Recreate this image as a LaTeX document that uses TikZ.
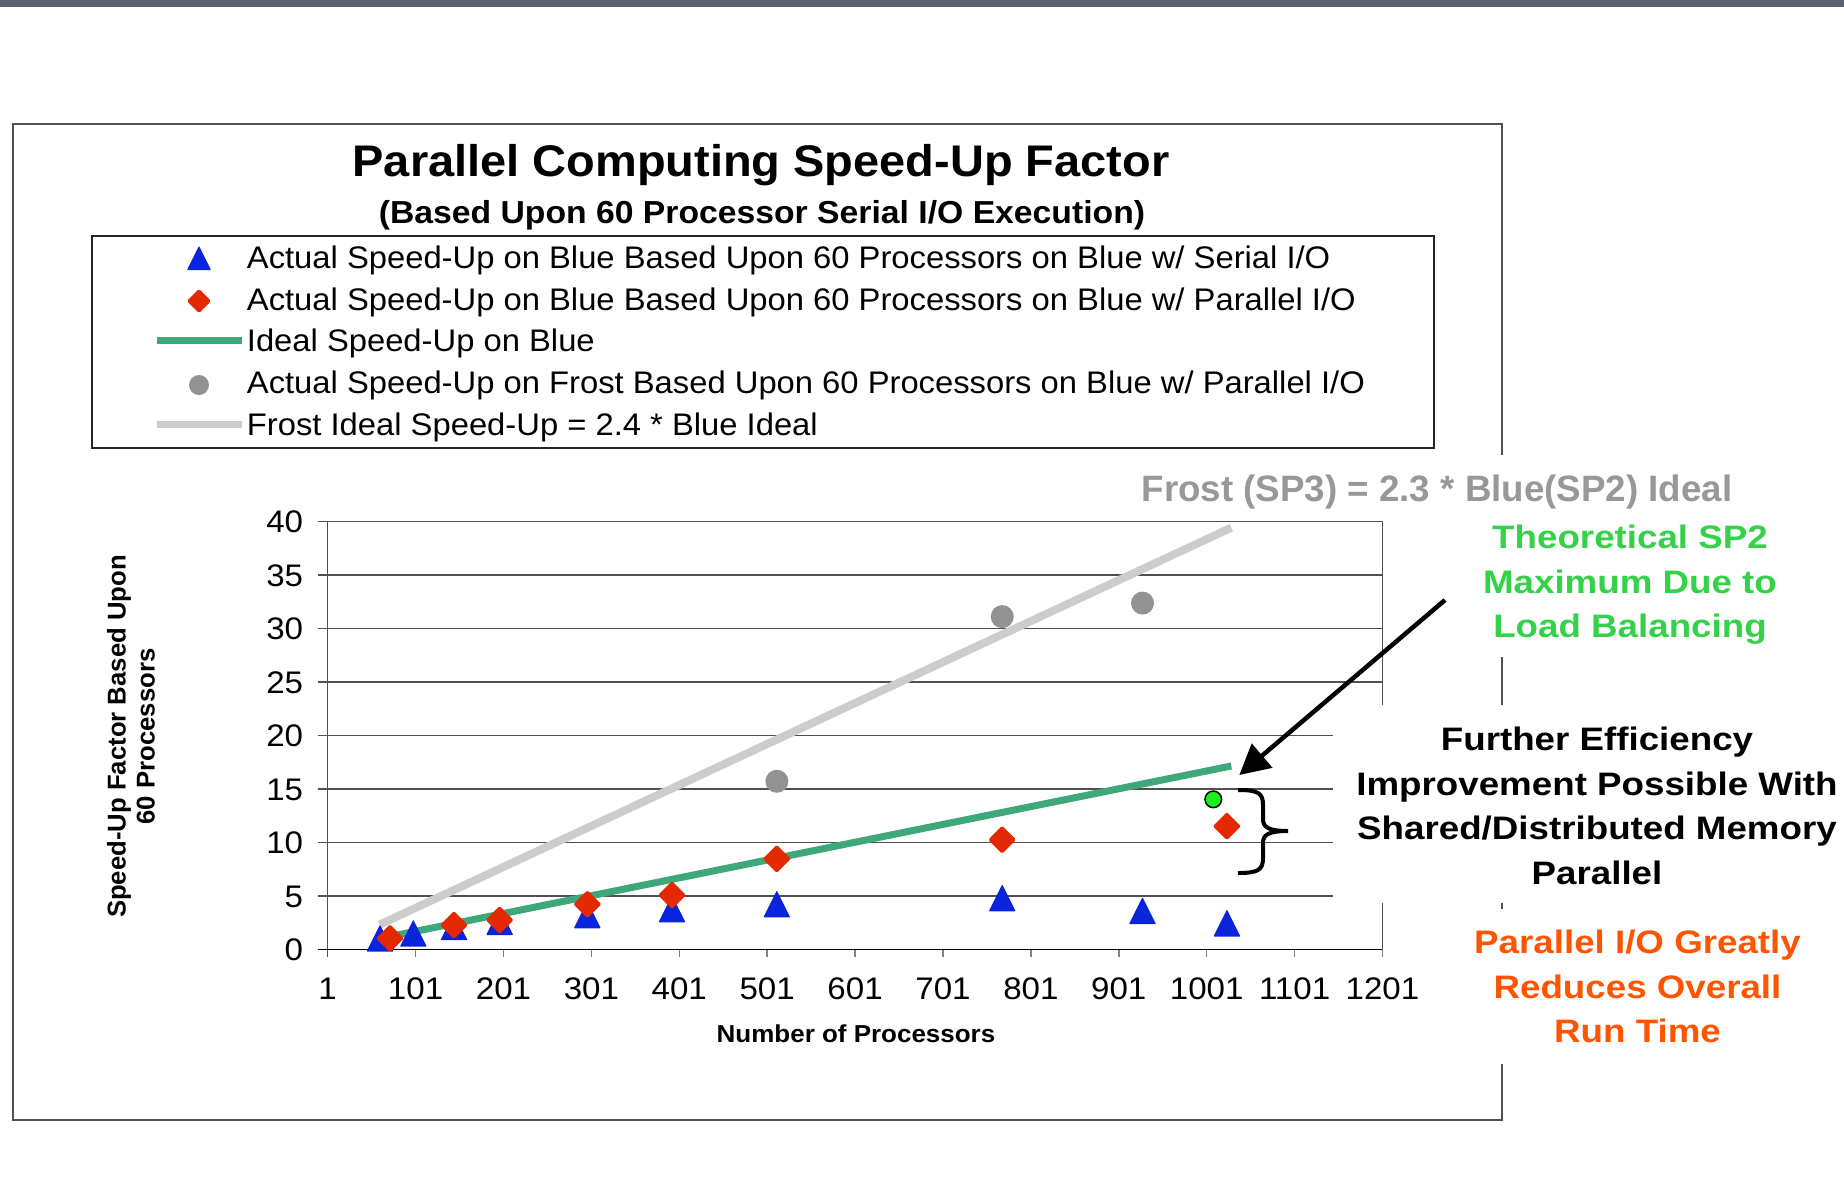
\documentclass[tikz,border=0pt]{standalone}
\usepackage{fontspec}
\setmainfont{Liberation Sans}
\newfontfamily\chartfont[FakeStretch=1.06]{Liberation Sans}
\newfontfamily\legendfont[FakeStretch=1.05]{Liberation Sans}
\newfontfamily\notefont[FakeStretch=1.13]{Liberation Sans}
\usetikzlibrary{arrows.meta}

\definecolor{bandgray}{RGB}{92,98,114}
\definecolor{framegray}{RGB}{82,82,82}
\definecolor{gridgray}{RGB}{80,80,80}
\definecolor{tickgray}{RGB}{130,130,130}
\definecolor{mkblue}{RGB}{10,36,220}
\definecolor{mkred}{RGB}{228,40,0}
\definecolor{idealgreen}{RGB}{62,168,122}
\definecolor{dotgray}{RGB}{146,146,146}
\definecolor{frostline}{RGB}{204,204,204}
\definecolor{frosttext}{RGB}{152,152,152}
\definecolor{notegreen}{RGB}{52,210,72}
\definecolor{noteorange}{RGB}{255,85,0}
\definecolor{ptgreen}{RGB}{30,238,30}

\tikzset{
  % chart markers, sized in points so they stay square inside the data scope
  pics/tri/.style={code={\fill[mkblue,rounded corners=0.8pt] (-13.5pt,-13.5pt) -- (13.5pt,-13.5pt) -- (0pt,13.5pt) -- cycle;}},
  pics/dia/.style={code={\fill[mkred,rounded corners=1.5pt] (0pt,-14pt) -- (14pt,0pt) -- (0pt,14pt) -- (-14pt,0pt) -- cycle;}},
  pics/gdot/.style={code={\fill[dotgray] (0pt,0pt) circle[radius=11.5pt];}},
  gridline/.style={gridgray, line width=1.5},
  axisline/.style={black, line width=1.6},
  idealline/.style={idealgreen, line width=7},
  frostideal/.style={frostline, line width=8},
  ticklabel/.style={inner sep=0pt, font=\fontsize{31.2}{36}\chartfont},
  legendtext/.style={inner sep=0pt, anchor=base west, font=\fontsize{31.2}{36}\legendfont},
  notetext/.style={inner sep=0pt, anchor=north, align=center, font=\fontsize{32.5}{44.5}\notefont\bfseries},
}

\begin{document}
\begin{tikzpicture}[x=1pt, y=-1pt]
\useasboundingbox (0,0) rectangle (1844,1200);
\fill[white] (0,0) rectangle (1844,1200);
\fill[bandgray] (0,0) rectangle (1844,7);

% outer chart frame, open where the side notes sit
\draw[framegray, line width=2.5] (1502,455) -- (1502,124) -- (13,124) -- (13,1120) -- (1502,1120) -- (1502,1064);
\draw[framegray, line width=2.5] (1502,657) -- (1502,705) (1502,903) -- (1502,909);

% titles
\node[inner sep=0pt, anchor=base, font=\fontsize{44.3}{50}\chartfont\bfseries] (title) at (761,176.7) {Parallel Computing Speed-Up Factor};
\node[inner sep=0pt, anchor=base, font=\fontsize{31.8}{36}\chartfont\bfseries] (subtitle) at (762,223.3) {(Based Upon 60 Processor Serial I/O Execution)};

% legend
\draw[black!85, line width=1.6] (92,236) rectangle (1434,448);
\pic[scale=0.89] at (199,258) {tri};
\pic[scale=0.86] at (199,301) {dia};
\draw[idealline, line width=6.5] (157,340.7) -- (242,340.7);
\fill[dotgray] (199,385) circle[radius=10];
\draw[frostideal, line width=7] (157,424) -- (242,424);
\node[legendtext] (leg1) at (246.7,268.3) {Actual Speed-Up on Blue Based Upon 60 Processors on Blue w/ Serial I/O};
\node[legendtext] (leg2) at (246.7,310) {Actual Speed-Up on Blue Based Upon 60 Processors on Blue w/ Parallel I/O};
\node[legendtext] (leg3) at (246.7,351.7) {Ideal Speed-Up on Blue};
\node[legendtext] (leg4) at (246.7,393.3) {Actual Speed-Up on Frost Based Upon 60 Processors on Blue w/ Parallel I/O};
\node[legendtext] (leg5) at (246.7,435) {Frost Ideal Speed-Up = 2.4 * Blue Ideal};

% plot area in data units: processors across, speed-up factor up
\begin{scope}[shift={(326.8pt,-949.3pt)}, x=0.879pt, y=10.69pt]
  \foreach \v in {25,30,35} \draw[gridline] (-9.7,\v) -- (1201,\v);
  \foreach \v in {5,10,15,20} \draw[gridline] (-9.7,\v) -- (1144.7,\v);
  \draw[gridline] (-9.7,40) -- (1201,40) -- (1201,22.85);
  \draw[gridline] (1201,4.33) -- (1201,0);
  \foreach \k in {1,...,12} \draw[tickgray, line width=1.5] (1+100*\k,0) -- (1+100*\k,-0.69);
  \draw[gridgray, line width=1.6] (1,40) -- (1,-0.69);
  \draw[axisline] (-9.7,0) -- (1201,0);

  \foreach \v in {0,5,...,40}
    \node[ticklabel, anchor=base east] (yl\v) at (-26.7,\v-1.048) {\v};
  \foreach \n in {1,101,201,301,401,501,601,701,801,901,1001,1101,1201}
    \node[ticklabel, anchor=base] (xl\n) at (\n,-4.65) {\n};

  % ideal speed-up lines
  \draw[frostideal] (60,2.3) -- (1029,39.44);
  \draw[idealline] (60,1) -- (1029,17.15);
  \coordinate (idealEnd) at (1029,17.15);

  % Frost measurements
  \foreach \n/\s in {512/15.72, 768.4/31.12, 928/32.39}
    \pic at (\n,\s) {gdot};
  % Blue, serial I/O
  \foreach \n/\s in {60.5/1.04, 98.4/1.51, 144.7/2.13, 196.7/2.60, 296.4/3.23, 392.7/3.79, 512/4.24, 768.4/4.82, 928/3.62, 1024/2.46}
    \pic at (\n,\s) {tri};
  % Blue, parallel I/O
  \foreach \n/\s in {71.9/1.03, 144.7/2.27, 196.7/2.74, 296.4/4.21, 392.7/5.08, 512/8.46, 768.4/10.25, 1024/11.52}
    \pic at (\n,\s) {dia};
  % theoretical maximum point
  \fill[ptgreen, draw=black, line width=1.5] (1008.5,14.03) circle[radius=8.3pt];
\end{scope}

% axis titles
\node[inner sep=0pt, anchor=base, font=\fontsize{24.5}{29}\chartfont\bfseries] (xtitle) at (856,1042.6) {Number of Processors};
\node[inner sep=0pt, anchor=north, rotate=90, align=center, font=\fontsize{25.7}{29}\selectfont\bfseries] (ytitle) at (106.7,736.5) {Speed-Up Factor Based Upon\\60 Processors};

% side notes
\node[inner sep=0pt, anchor=base, text=frosttext, font=\fontsize{36.7}{40}\selectfont\bfseries] (frostnote) at (1437,501) {Frost (SP3) = 2.3 * Blue(SP2) Ideal};
\node[notetext, text=notegreen] (maxnote) at (1630,525) {Theoretical SP2\\Maximum Due to\\Load Balancing};
\node[notetext, text=black] (memnote) at (1597,727) {Further Efficiency\\Improvement Possible With\\Shared/Distributed Memory\\Parallel};
\node[notetext, text=noteorange] (ionote) at (1637.5,930) {Parallel I/O Greatly\\Reduces Overall\\Run Time};

% pointer from the load-balancing note to the end of the ideal line
\coordinate (arrowTail) at (1445,600);
\coordinate (arrowTip) at (1239.3,775);
\draw[black, line width=4.5, -{Triangle[length=30pt,width=31pt]}] (arrowTail) -- (arrowTip);

% brace spanning the gap between parallel I/O result and theoretical maximum
\draw[black, line width=4] (1238,790) .. controls (1258,790) and (1263,793) .. (1263,805) -- (1263,819)
  .. controls (1263,827) and (1268,831) .. (1288,831)
  .. controls (1268,831) and (1263,835) .. (1263,843) -- (1263,858)
  .. controls (1263,870) and (1258,873) .. (1238,873);
\end{tikzpicture}
\end{document}
